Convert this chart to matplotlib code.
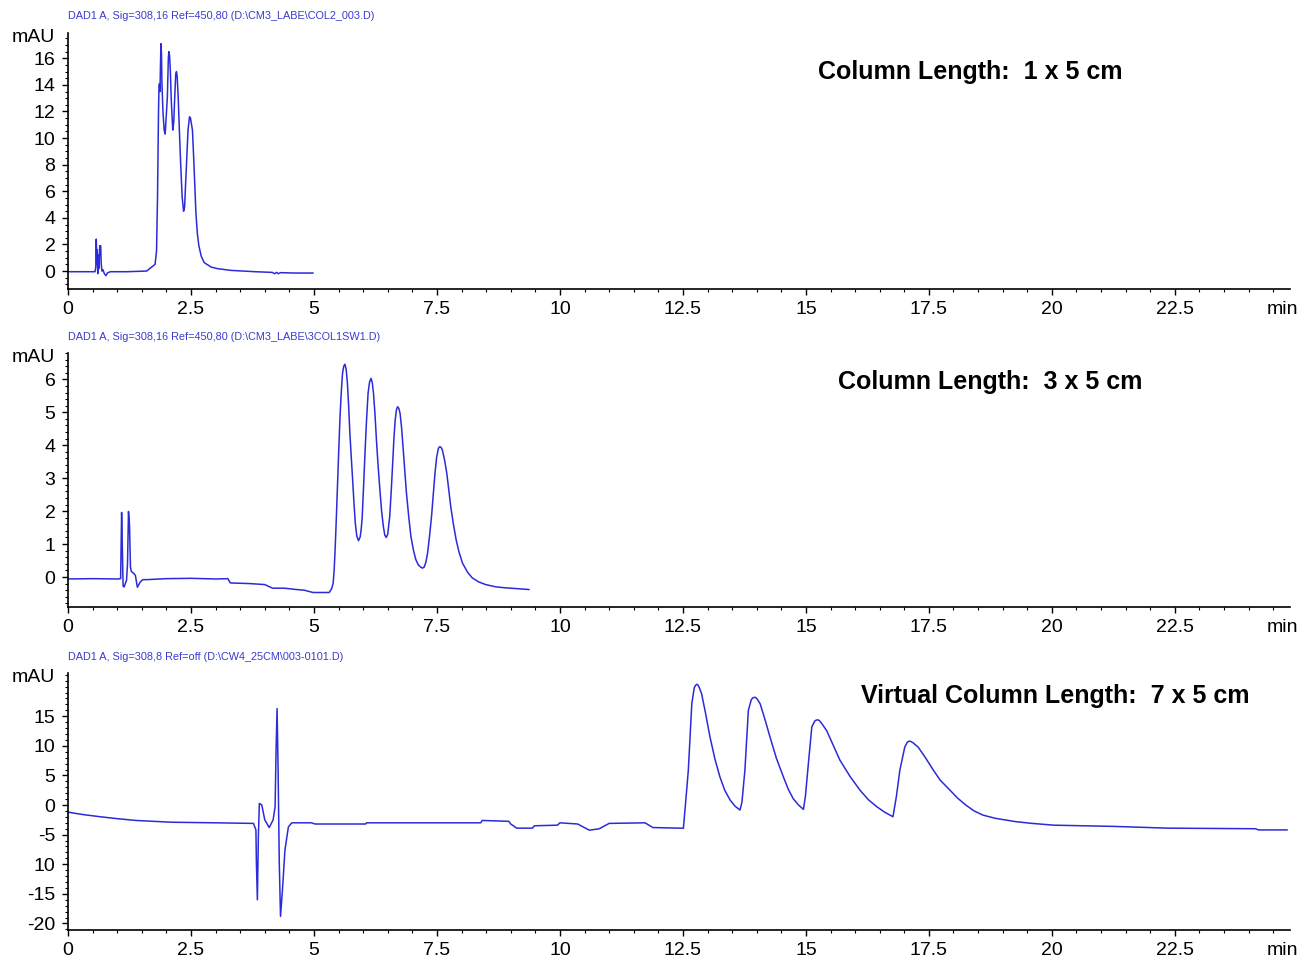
import matplotlib
matplotlib.use("Agg")
import matplotlib.pyplot as plt
from matplotlib.ticker import MultipleLocator

plt.rcParams['font.family'] = ['Liberation Sans', 'DejaVu Sans']

# Chromatogramme 1 : colonne 1 x 5 cm (temps en min, signal en mAU)
t1 = [0.0, 0.55, 0.565, 0.575, 0.585, 0.595, 0.605, 0.615, 0.63, 0.645, 0.665, 0.675, 0.69,
      0.71, 0.74, 0.77, 0.80, 0.86, 1.2, 1.6, 1.7, 1.77, 1.80, 1.82, 1.84, 1.85, 1.86, 1.87,
      1.88, 1.89, 1.90, 1.91, 1.93, 1.955, 1.975, 1.995, 2.02, 2.04, 2.05, 2.065, 2.08, 2.10,
      2.13, 2.15, 2.17, 2.19, 2.205, 2.22, 2.24, 2.265, 2.29, 2.32, 2.35, 2.37, 2.39, 2.41,
      2.44, 2.47, 2.49, 2.53, 2.56, 2.60, 2.63, 2.66, 2.71, 2.77, 2.91, 3.04, 3.31, 3.8,
      4.15, 4.2, 4.24, 4.28, 4.32, 4.6, 4.98]
v1 = [-0.05, -0.05, 0.3, 2.4, 0.5, 1.6, -0.2, 1.2, 0.2, 1.9, 1.9, 0.6, 0.0,
      0.1, -0.2, -0.35, -0.15, -0.05, -0.05, 0.0, 0.3, 0.5, 1.5, 5.6, 12.0, 13.9, 14.1, 13.5,
      15.5, 17.1, 16.4, 14.1, 12.0, 10.6, 10.3, 11.5, 13.1, 16.0, 16.5, 16.2, 15.1, 12.8,
      10.6, 11.2, 13.1, 14.8, 15.0, 14.6, 13.1, 10.5, 8.1, 5.6, 4.5, 4.8, 6.5, 8.1,
      10.6, 11.6, 11.5, 10.6, 8.1, 4.4, 2.8, 1.9, 1.1, 0.63, 0.3, 0.18, 0.05, -0.05,
      -0.1, -0.2, -0.1, -0.2, -0.12, -0.15, -0.15]

# Chromatogramme 2 : colonne 3 x 5 cm
t2 = [0.0, 0.5, 1.0, 1.07, 1.09, 1.10, 1.12, 1.14, 1.19, 1.21, 1.23, 1.25, 1.27, 1.29,
      1.33, 1.37, 1.41, 1.47, 1.52, 1.6, 2.0, 2.5, 3.0, 3.25, 3.3, 3.7, 4.0, 4.16, 4.4,
      4.64, 4.8, 4.98, 5.1, 5.31, 5.36, 5.39, 5.41, 5.43, 5.455, 5.48, 5.505, 5.53, 5.555,
      5.58, 5.605, 5.63, 5.655, 5.68, 5.705, 5.73, 5.76, 5.79, 5.815, 5.84, 5.87, 5.905,
      5.94, 5.96, 5.98, 6.01, 6.04, 6.07, 6.10, 6.13, 6.16, 6.185, 6.21, 6.24, 6.27, 6.305,
      6.34, 6.375, 6.41, 6.44, 6.47, 6.50, 6.54, 6.57, 6.60, 6.625, 6.65, 6.675, 6.70,
      6.725, 6.75, 6.78, 6.81, 6.845, 6.88, 6.925, 6.97, 7.02, 7.07, 7.12, 7.17, 7.205,
      7.24, 7.275, 7.31, 7.35, 7.39, 7.425, 7.46, 7.495, 7.53, 7.56, 7.585, 7.61, 7.655,
      7.70, 7.74, 7.78, 7.835, 7.89, 7.95, 8.02, 8.12, 8.22, 8.35, 8.49, 8.7, 8.90, 9.1,
      9.37]
v2 = [-0.06, -0.05, -0.06, -0.05, 1.96, 1.3, -0.28, -0.3, -0.1, 0.4, 1.99, 1.6, 0.3, 0.16,
      0.12, 0.05, -0.31, -0.15, -0.08, -0.08, -0.05, -0.04, -0.06, -0.05, -0.18, -0.2,
      -0.23, -0.34, -0.34, -0.38, -0.4, -0.47, -0.47, -0.47, -0.35, -0.19, 0.2, 0.83, 1.8,
      2.85, 3.9, 4.87, 5.6, 6.18, 6.4, 6.46, 6.3, 5.88, 5.2, 4.36, 3.6, 2.85, 2.2, 1.64,
      1.25, 1.10, 1.22, 1.45, 1.8, 2.8, 3.86, 4.8, 5.58, 5.92, 6.03, 5.9, 5.58, 4.95, 4.16,
      3.35, 2.65, 2.0, 1.54, 1.27, 1.20, 1.3, 1.84, 2.6, 3.45, 4.2, 4.75, 5.07, 5.17,
      5.12, 4.97, 4.55, 3.96, 3.25, 2.55, 1.85, 1.24, 0.83, 0.53, 0.37, 0.30, 0.27,
      0.30, 0.45, 0.73, 1.25, 1.84, 2.5, 3.15, 3.65, 3.91, 3.96, 3.93, 3.86, 3.55,
      3.15, 2.65, 2.14, 1.6, 1.13, 0.75, 0.42, 0.15, -0.03, -0.15, -0.23, -0.3, -0.33, -0.35,
      -0.38]

# Chromatogramme 3 : colonne virtuelle 7 x 5 cm
t3 = [0.0, 0.3, 0.65, 1.0, 1.38, 2.1, 3.0, 3.77, 3.82, 3.83, 3.85, 3.87, 3.89, 3.94, 4.0,
      4.09, 4.17, 4.21, 4.23, 4.25, 4.27, 4.295, 4.32, 4.36, 4.41, 4.48, 4.55, 4.95, 5.02,
      6.05, 6.07, 8.39, 8.42, 8.96, 9.0, 9.12, 9.44, 9.48, 9.95, 10.0, 10.36, 10.45, 10.6,
      10.8, 11.0, 11.73, 11.89, 12.44, 12.51, 12.54, 12.61, 12.68, 12.73, 12.755, 12.78,
      12.805, 12.83, 12.88, 12.96, 13.05, 13.15, 13.25, 13.35, 13.46, 13.56, 13.66, 13.70,
      13.76, 13.83, 13.89, 13.92, 13.95, 13.98, 14.01, 14.07, 14.17, 14.27, 14.40, 14.54,
      14.64, 14.74, 14.85, 14.95, 14.99, 15.05, 15.12, 15.18, 15.21, 15.24, 15.27, 15.32,
      15.42, 15.55, 15.69, 15.90, 16.10, 16.27, 16.44, 16.60, 16.77, 16.84, 16.91, 17.01,
      17.06, 17.085, 17.11, 17.14, 17.18, 17.28, 17.43, 17.59, 17.73, 17.93, 18.08, 18.25,
      18.42, 18.60, 18.85, 19.27, 19.60, 20.04, 21.24, 22.35, 24.14, 24.2, 24.78]
v3 = [-1.2, -1.6, -1.97, -2.3, -2.6, -2.9, -3.0, -3.1, -4.2, -9.8, -16.0, -5.3, 0.28, 0.0,
      -2.5, -3.8, -2.5, -0.28, 9.3, 16.3, 6.5, -9.8, -18.8, -14.3, -7.6, -3.7, -3.0, -3.0,
      -3.2, -3.2, -3.0, -3.0, -2.6, -2.75, -3.2, -3.9, -3.9, -3.5, -3.4, -3.0, -3.2, -3.6,
      -4.25, -4.0, -3.1, -3.0, -3.8, -3.9, -3.9, -1.0, 5.9, 17.1, 19.8, 20.2, 20.4,
      20.3, 19.9, 18.8, 15.5, 11.5, 7.8, 4.8, 2.5, 0.84, -0.2, -0.84, 0.5,
      5.9, 16.0, 17.8, 18.1, 18.2, 18.15, 17.9, 17.1, 14.4, 11.5, 7.9, 4.8,
      2.7, 1.1, 0.0, -0.73, 1.5, 7.0, 13.2, 14.2, 14.35, 14.4, 14.3, 13.8,
      12.6, 10.2, 7.6, 4.8, 2.5, 0.9, -0.28, -1.2, -1.97, 1.5, 5.9, 9.8,
      10.6, 10.75, 10.8, 10.7, 10.5, 9.8, 8.0, 5.9, 4.2, 2.5, 1.2, 0.0,
      -1.0, -1.7, -2.24, -2.81, -3.1, -3.4, -3.6, -3.9, -4.0, -4.2, -4.2]

# En-têtes, titres et graduations
headers = ["DAD1 A, Sig=308,16 Ref=450,80 (D:\\CM3_LABE\\COL2_003.D)",
           "DAD1 A, Sig=308,16 Ref=450,80 (D:\\CM3_LABE\\3COL1SW1.D)",
           "DAD1 A, Sig=308,8 Ref=off (D:\\CW4_25CM\\003-0101.D)"]
titles = ["Column Length:  1 x 5 cm",
          "Column Length:  3 x 5 cm",
          "Virtual Column Length:  7 x 5 cm"]
yticks = [[0, 2, 4, 6, 8, 10, 12, 14, 16],
          [0, 1, 2, 3, 4, 5, 6],
          [15, 10, 5, 0, -5, -10, -15, -20]]
ylabels = [[str(v) for v in yticks[0]],
           [str(v) for v in yticks[1]],
           ["15", "10", "5", "0", "-5", "10", "-15", "-20"]]
xticks = [0, 2.5, 5, 7.5, 10, 12.5, 15, 17.5, 20, 22.5]
xlabels = ["0", "2.5", "5", "7.5", "10", "12.5", "15", "17.5", "20", "22.5"]

traces = [(t1, v1), (t2, v2), (t3, v3)]
ylims = [(-1.35, 17.9), (-0.91, 6.8), (-21.1, 22.3)]
yminor = [0.5, 0.2, 1]
# position des axes (bas, hauteur) en fraction de figure
rects = [(0.6999, 0.2658), (0.3697, 0.2637), (0.0343, 0.2668)]
header_y = [0.9834, 0.650, 0.3178]
title_xy = [(0.746, 0.9252), (0.7615, 0.6033), (0.8115, 0.2773)]

line_color = "#2b2bd9"

fig = plt.figure(figsize=(13, 9.63), dpi=100)

for i in range(3):
    ax = fig.add_axes([0.0523, rects[i][0], 0.9400, rects[i][1]])
    t, v = traces[i]
    ax.plot(t, v, color=line_color, lw=1.1)

    ax.set_xlim(0, 24.84)
    ax.set_ylim(*ylims[i])

    ax.set_xticks(xticks)
    ax.set_xticklabels(xlabels)
    ax.xaxis.set_minor_locator(MultipleLocator(0.5))
    ax.set_yticks(yticks[i])
    ax.set_yticklabels(ylabels[i])
    ax.yaxis.set_minor_locator(MultipleLocator(yminor[i]))

    for side in ["top", "right"]:
        ax.spines[side].set_visible(False)
    for side in ["left", "bottom"]:
        ax.spines[side].set_linewidth(1.2)

    ax.tick_params(axis="both", which="major", length=4.5, width=1.0, labelsize=14)
    ax.tick_params(axis="x", which="major", pad=4.5)
    ax.tick_params(axis="y", which="major", pad=4.5)
    ax.tick_params(axis="both", which="minor", length=2.5, width=0.8)

    # unité en haut de l'axe y, "min" au bout de l'axe x
    ax.text(-0.0106, 0.984, "mAU", transform=ax.transAxes, ha="right", va="center", fontsize=14)
    ax.annotate("min", xy=(0.9935, 0), xycoords="axes fraction", xytext=(0, -9.0),
                textcoords="offset points", ha="center", va="top", fontsize=14)

    fig.text(0.0523, header_y[i], headers[i], color="#3a3acf", fontsize=7.8, va="center")
    fig.text(title_xy[i][0], title_xy[i][1], titles[i], fontsize=18, fontweight="bold",
             ha="center", va="center")

fig.savefig("out.png", dpi=100)
